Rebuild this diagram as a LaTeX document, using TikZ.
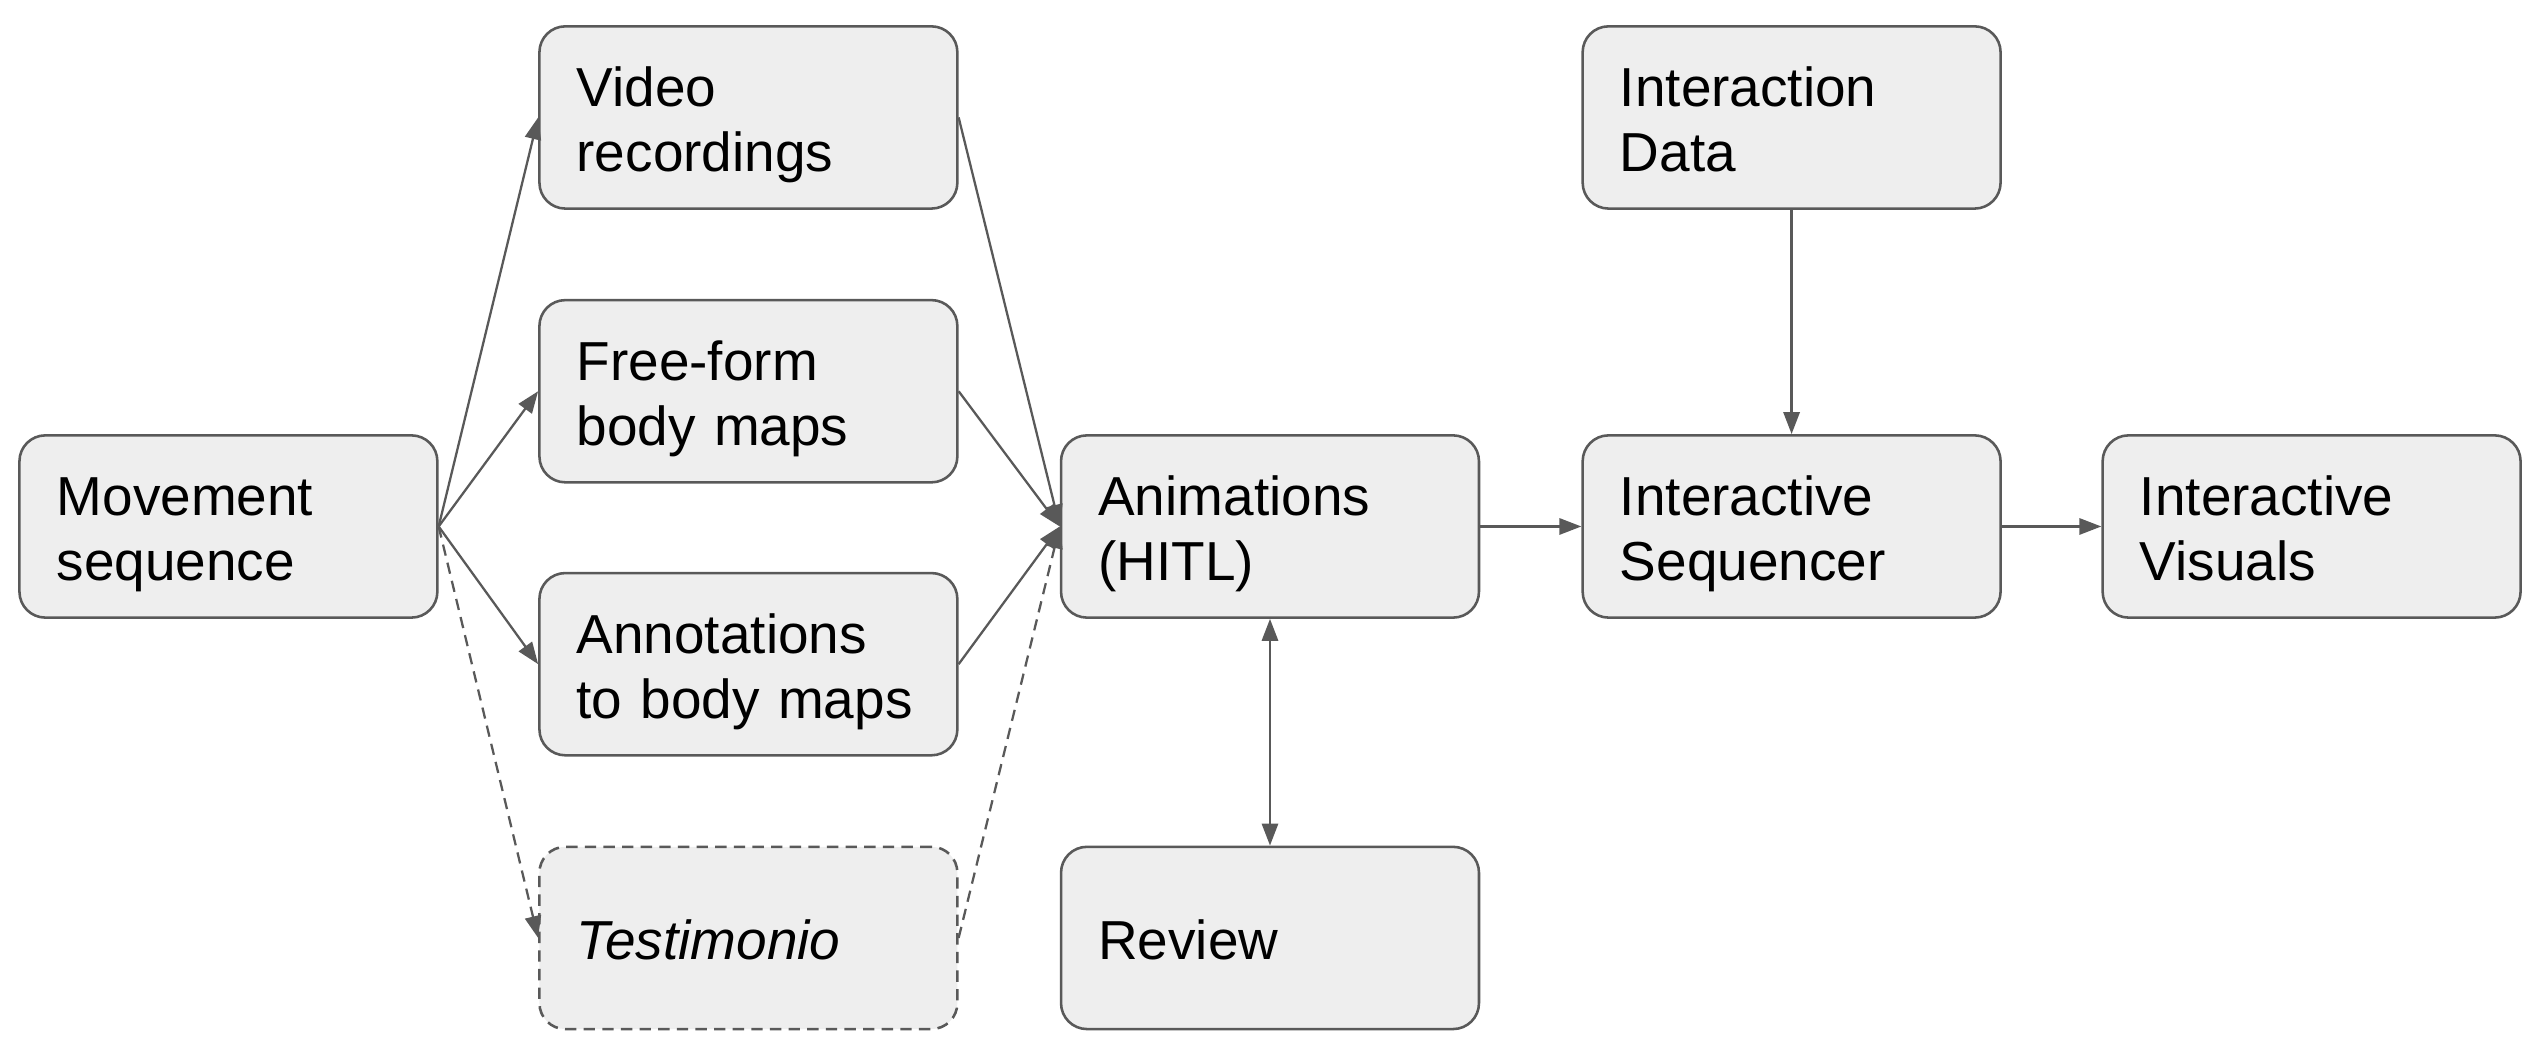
\documentclass[tikz,border=0pt]{standalone}
\usepackage{fontspec}
\setmainfont{Liberation Sans}
\usetikzlibrary{arrows.meta}
\definecolor{edge}{HTML}{595959}
\definecolor{boxfill}{HTML}{EEEEEE}
\newcommand\boxstrut{\rule[-3.7pt]{0pt}{22.8pt}}

\begin{document}
\begin{tikzpicture}[scale=0.2,>={Triangle[length=0.27cm,width=0.2cm]}]
\tikzstyle{every node}+=[inner sep=0pt]
\tikzstyle{box}=[draw=edge,fill=boxfill,line width=0.9pt,rounded corners=0.32cm,minimum height=2.25cm,text width=4.24cm,inner xsep=0.46cm,align=left,font=\fontsize{19.3pt}{22.8pt}\selectfont,execute at begin node=\boxstrut,execute at end node=\boxstrut]
\tikzstyle{link}=[draw=edge,line width=0.8pt]
\tikzstyle{maybe}=[dash pattern=on 0.14cm off 0.09cm]
\useasboundingbox (0,0) rectangle (156.8,-65.07);
\node [box] (move) at (14.1,-32.5) {Movement\\sequence};
\node [box] (video) at (46.2,-7.25) {Video\\recordings};
\node [box] (free) at (46.2,-24.15) {Free-form\\body maps};
\node [box] (annot) at (46.2,-41) {Annotations\\to body maps};
\node [box,maybe] (testi) at (46.2,-57.9) {\itshape Testimonio};
\node [box] (anim) at (78.4,-32.5) {Animations\\(HITL)};
\node [box] (review) at (78.4,-57.9) {Review};
\node [box] (idata) at (110.6,-7.25) {Interaction\\Data};
\node [box] (iseq) at (110.6,-32.5) {Interactive\\Sequencer};
\node [box] (ivis) at (142.7,-32.5) {Interactive\\Visuals};
\draw [link,->] (move.east) -- (video.west);
\draw [link,->] (move.east) -- (free.west);
\draw [link,->] (move.east) -- (annot.west);
\draw [link,maybe,->] (move.east) -- (testi.west);
\draw [link,->] (video.east) -- (anim.west);
\draw [link,->] (free.east) -- (anim.west);
\draw [link,->] (annot.east) -- (anim.west);
\draw [link,maybe,->] (testi.east) -- (anim.west);
\draw [link,<->] (anim.south) -- (review.north);
\draw [link,->] (anim.east) -- (iseq.west);
\draw [link,->] (idata.south) -- (iseq.north);
\draw [link,->] (iseq.east) -- (ivis.west);
\end{tikzpicture}
\end{document}
